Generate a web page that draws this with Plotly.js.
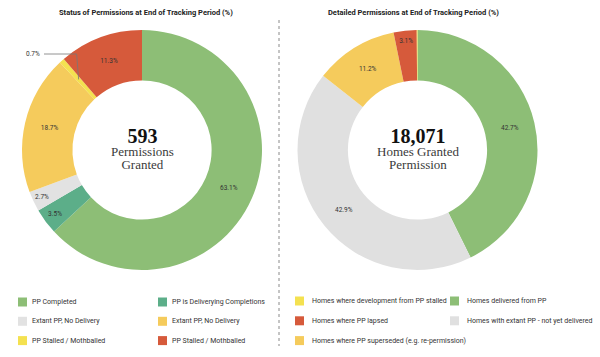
<!DOCTYPE html>
<html><head><meta charset="utf-8">
<script src="https://cdn.plot.ly/plotly-3.0.1.min.js"></script>
<style>html,body{margin:0;padding:0;background:#fff}#chart{width:600px;height:357px}</style>
</head><body><div id="chart"></div>
<script>
// ---------- data ----------
const leftTitle = 'Status of Permissions at End of Tracking Period (%)';
const rightTitle = 'Detailed Permissions at End of Tracking Period (%)';

const leftLabels = ['PP Completed', 'PP is Deliverying Completions', 'Extant PP, No Delivery',
                    'Extant PP, No Delivery', 'PP Stalled / Mothballed', 'PP Stalled / Mothballed'];
const leftValues = [63.1, 3.5, 2.7, 18.7, 0.7, 11.3];
const leftColors = ['#8dbe76', '#5cae89', '#e2e2e2', '#f5cb5c', '#f4e150', '#d65a3b'];
const leftLegendOrder = [0, 1, 2, 3, 4, 5];
const leftTotal = '593';
const leftCaption = ['Permissions', 'Granted'];
const leftCalloutSlice = 4;   // small slice labelled outside with a leader line

const rightLabels = ['Homes delivered from PP', 'Homes with extant PP - not yet delivered',
                     'Homes where PP superseded (e.g. re-permission)', 'Homes where PP lapsed',
                     'Homes where development from PP stalled'];
const rightValues = [42.7, 42.9, 11.2, 3.1, 0.1];
const rightColors = ['#8dbe76', '#e0e0e0', '#f5cb5c', '#d65a3b', '#f4e150'];
const rightLegendOrder = [4, 0, 3, 1, 2];
const rightTotal = '18,071';
const rightCaption = ['Homes Granted', 'Permission'];

// ---------- layout helpers ----------
const W = 600, H = 357;
const sans = 'Roboto, "Liberation Sans", Arial, sans-serif';
const serif = '"Liberation Serif", "DejaVu Serif", serif';
const fx = p => p / W;
const fy = p => 1 - p / H;
const HOLE = 0.58;

function donut(labels, values, colors, cx, cy, r, textpos) {
  return {
    type: 'pie',
    labels: labels.map((l, i) => i + ' ' + l),
    values: values,
    sort: false, direction: 'clockwise', rotation: 0, hole: HOLE,
    marker: {colors: colors, line: {width: 0}},
    texttemplate: '%{value:.1f}%',
    textposition: textpos,
    insidetextorientation: 'horizontal',
    textfont: {family: sans, size: 6.5, color: '#333'},
    showlegend: false, hoverinfo: 'skip',
    domain: {x: [fx(cx - r), fx(cx + r)], y: [fy(cy + r), fy(cy - r)]}
  };
}

const shapes = [];
const annotations = [];

function centerText(cx, cy, total, caption) {
  annotations.push({xref: 'paper', yref: 'paper', x: fx(cx), y: fy(cy - 2), xanchor: 'center', yanchor: 'middle',
    showarrow: false, align: 'center',
    text: '<span style="font-size:20px;color:#111"><b>' + total + '</b></span><br>' +
          caption.map(c => '<span style="font-size:13px">' + c + '</span>').join('<br>'),
    font: {family: serif, size: 10, color: '#3a3a3a'}});
}

function legend(labels, colors, order, x0, colGap, textOff, y0, rowGap) {
  order.forEach((idx, k) => {
    const col = k % 2, row = Math.floor(k / 2);
    const x = x0 + col * colGap, y = y0 + row * rowGap;
    shapes.push({type: 'rect', xref: 'paper', yref: 'paper',
      x0: fx(x), x1: fx(x + 9), y0: fy(y + 4.5), y1: fy(y - 4.5),
      fillcolor: colors[idx], line: {width: 0}});
    annotations.push({xref: 'paper', yref: 'paper', x: fx(x + 9 + textOff), y: fy(y),
      xanchor: 'left', yanchor: 'middle', text: labels[idx], showarrow: false,
      font: {family: sans, size: 7, color: '#333'}});
  });
}

const L = {cx: 142, cy: 150, r: 120};
const R = {cx: 417.5, cy: 150, r: 120};

const leftPos = leftValues.map((v, i) => i === leftCalloutSlice ? 'none' : 'inside');
const traces = [
  donut(leftLabels, leftValues, leftColors, L.cx, L.cy, L.r, leftPos),
  donut(rightLabels, rightValues, rightColors, R.cx, R.cy, R.r, ['inside', 'inside', 'inside', 'inside', 'none'])
];

centerText(L.cx, L.cy, leftTotal, leftCaption);
centerText(R.cx, R.cy, rightTotal, rightCaption);

// leader-line label for the thin slice (angle derived from the data)
(function () {
  const total = leftValues.reduce((a, b) => a + b, 0);
  const before = leftValues.slice(0, leftCalloutSlice).reduce((a, b) => a + b, 0);
  const mid = (before + leftValues[leftCalloutSlice] / 2) / total * 2 * Math.PI;
  const rr = L.r * (1 + HOLE) / 2;
  const px = L.cx + rr * Math.sin(mid), py = L.cy - rr * Math.cos(mid);
  const labY = 54, labRight = 44;
  shapes.push({type: 'path', xref: 'paper', yref: 'paper',
    path: 'M' + fx(labRight) + ',' + fy(labY) + ' L' + fx(px - 2) + ',' + fy(labY) + ' L' + fx(px) + ',' + fy(py),
    line: {color: '#777', width: 0.8}});
  annotations.push({xref: 'paper', yref: 'paper', x: fx(labRight - 2), y: fy(labY), xanchor: 'right', yanchor: 'middle',
    text: leftValues[leftCalloutSlice].toFixed(1) + '%', showarrow: false,
    font: {family: sans, size: 6.5, color: '#333'}});
})();

annotations.push({xref: 'paper', yref: 'paper', x: fx(146), y: fy(13), xanchor: 'center', yanchor: 'middle',
  text: '<b>' + leftTitle + '</b>', showarrow: false, font: {family: sans, size: 7.5, color: '#222'}});
annotations.push({xref: 'paper', yref: 'paper', x: fx(413), y: fy(13), xanchor: 'center', yanchor: 'middle',
  text: '<b>' + rightTitle + '</b>', showarrow: false, font: {family: sans, size: 7.5, color: '#222'}});

legend(leftLabels, leftColors, leftLegendOrder, 18, 140, 3, 302, 19.3);
legend(rightLabels, rightColors, rightLegendOrder, 295, 155, 6, 301, 19.8);

shapes.push({type: 'line', xref: 'paper', yref: 'paper', x0: fx(279), x1: fx(279), y0: fy(20), y1: fy(346),
  line: {color: '#8a8a8a', width: 1, dash: 'dot'}});

const layout = {
  width: W, height: H,
  margin: {l: 0, r: 0, t: 0, b: 0},
  paper_bgcolor: '#fff', plot_bgcolor: '#fff',
  showlegend: false,
  shapes: shapes, annotations: annotations
};

Plotly.newPlot('chart', traces, layout, {displayModeBar: false, staticPlot: true});
</script>
</body></html>
